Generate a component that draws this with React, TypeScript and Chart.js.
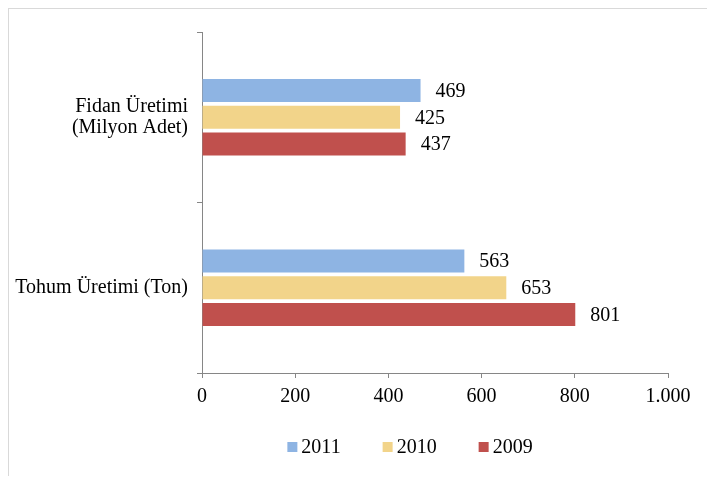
import React, { useEffect, useRef } from "react";
import { Chart, registerables } from "chart.js";

Chart.register(...registerables);

const categories: (string | string[])[] = [["Fidan Üretimi", "(Milyon Adet)"], "Tohum Üretimi (Ton)"];
const seriesLabels = ["2011", "2010", "2009"];
const values2011 = [469, 563];
const values2010 = [425, 653];
const values2009 = [437, 801];
const xTicks = [0, 200, 400, 600, 800, 1000];

const colors = ["#8EB4E3", "#F2D48A", "#C0504D"];
const FONT = "'Liberation Serif', 'Times New Roman', serif";
const FS = 20;

const fmt = (v: number) => v.toString().replace(/\B(?=(\d{3})+(?!\d))/g, ".");

const dataLabelPlugin = {
  id: "dataLabels",
  afterDatasetsDraw(chart: any) {
    const ctx = chart.ctx;
    ctx.save();
    ctx.font = `${FS}px ${FONT}`;
    ctx.fillStyle = "#000";
    ctx.textBaseline = "middle";
    ctx.textAlign = "left";
    chart.data.datasets.forEach((ds: any, i: number) => {
      const meta = chart.getDatasetMeta(i);
      meta.data.forEach((el: any, j: number) => {
        ctx.fillText(fmt(ds.data[j]), el.x + 15, el.y + 1);
      });
    });
    ctx.restore();
  },
};

const legendPlugin = {
  id: "customLegend",
  afterDraw(chart: any) {
    const ctx = chart.ctx;
    ctx.save();
    ctx.font = `${FS}px ${FONT}`;
    ctx.textBaseline = "middle";
    ctx.textAlign = "left";
    const box = 10;
    const gapBoxText = 4;
    const gapItems = 42;
    const items = chart.data.datasets.map((ds: any) => ({
      label: ds.label,
      color: ds.backgroundColor,
      w: box + gapBoxText + ctx.measureText(ds.label).width,
    }));
    const total = items.reduce((s: number, it: any) => s + it.w, 0) + gapItems * (items.length - 1);
    const cx = 401;
    const cy = 438;
    let x = cx - total / 2;
    items.forEach((it: any) => {
      ctx.fillStyle = it.color;
      ctx.fillRect(x, cy - box / 2, box, box);
      ctx.fillStyle = "#000";
      ctx.fillText(it.label, x + box + gapBoxText, cy + 1);
      x += it.w + gapItems;
    });
    ctx.restore();
  },
};

export default function App() {
  const ref = useRef<HTMLCanvasElement | null>(null);
  useEffect(() => {
    if (!ref.current) return;
    const chart = new Chart(ref.current, {
      type: "bar",
      data: {
        labels: categories as any,
        datasets: [
          { label: seriesLabels[0], data: values2011, backgroundColor: colors[0] },
          { label: seriesLabels[1], data: values2010, backgroundColor: colors[1] },
          { label: seriesLabels[2], data: values2009, backgroundColor: colors[2] },
        ],
      },
      options: {
        indexAxis: "y",
        responsive: false,
        animation: false,
        maintainAspectRatio: false,
        layout: { padding: { top: 23, right: 39, left: 0, bottom: 0 } },
        datasets: { bar: { categoryPercentage: 0.47, barPercentage: 0.86 } },
        plugins: { legend: { display: false }, tooltip: { enabled: false } },
        scales: {
          x: {
            min: 0,
            max: 1000,
            afterBuildTicks: (s: any) => {
              s.ticks = xTicks.map((v) => ({ value: v }));
            },
            afterFit: (s: any) => {
              s.height = 103;
            },
            ticks: {
              font: { family: FONT, size: FS },
              color: "#000",
              padding: 7,
              callback: (v: any) => fmt(Number(v)),
            },
            grid: { drawOnChartArea: false, color: "#868686", tickLength: 5 },
            border: { color: "#868686" },
          },
          y: {
            afterFit: (s: any) => {
              s.width = 193;
            },
            ticks: {
              font: { family: FONT, size: FS, lineHeight: 1.05 },
              color: "#000",
              padding: 9,
            },
            grid: { drawOnChartArea: false, color: "#868686", tickLength: 5 },
            border: { color: "#868686" },
          },
        },
      },
      plugins: [dataLabelPlugin, legendPlugin],
    });
    return () => chart.destroy();
  }, []);
  return (
    <div
      style={{
        width: 698,
        height: 467,
        borderTop: "1px solid #d9d9d9",
        borderLeft: "1px solid #d9d9d9",
      }}
    >
      <canvas ref={ref} width={698} height={467} style={{ display: "block" }} />
    </div>
  );
}
